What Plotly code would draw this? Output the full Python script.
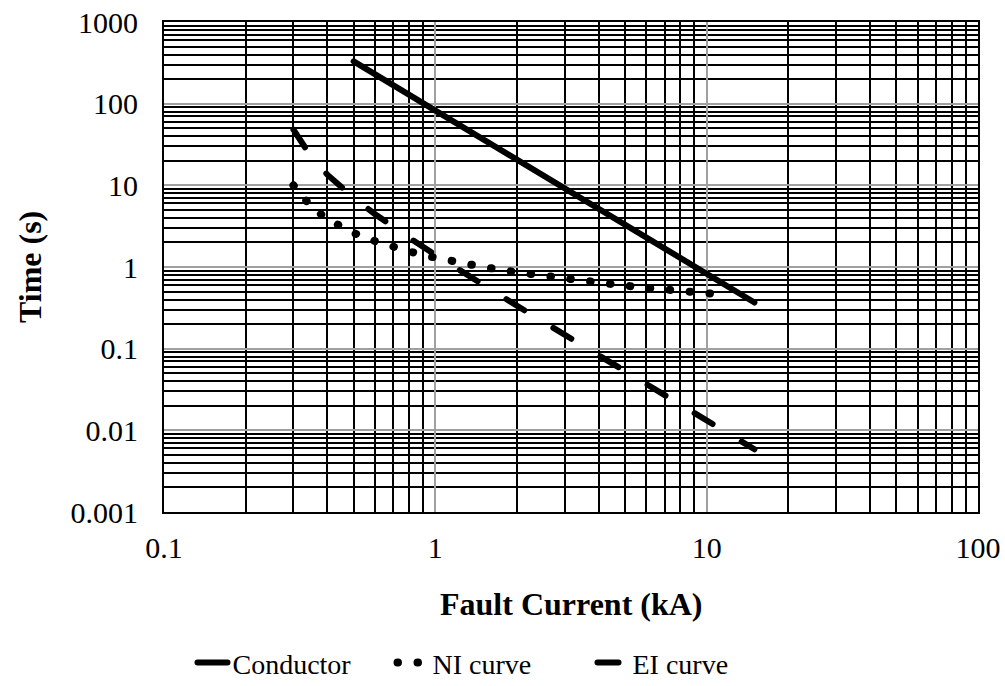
import plotly.graph_objects as go

# Data
cond_I = [0.5, 0.7, 1, 1.5, 2, 3, 5, 7, 10, 15]
cond_t = [330, 168, 82.5, 36.7, 20.6, 9.17, 3.30, 1.68, 0.825, 0.367]

ni_I = [0.3, 0.35, 0.4, 0.5, 0.6, 0.7, 0.8, 1, 1.2, 1.5, 2, 2.5, 3, 4, 5, 6, 8, 10, 12]
ni_t = [10.0, 5.41, 3.86, 2.61, 2.07, 1.75, 1.55, 1.30, 1.145, 1.00, 0.86, 0.775,
        0.716, 0.640, 0.591, 0.556, 0.509, 0.477, 0.453]

ei_I = [0.3, 0.35, 0.4, 0.5, 0.6, 0.7, 0.8, 1, 1.2, 1.5, 2, 2.5, 3, 4, 5, 6, 8, 10, 12, 15]
ei_t = [48.0, 22.0, 13.5, 7.03, 4.43, 3.08, 2.28, 1.41, 0.957, 0.603, 0.335, 0.213,
        0.148, 0.0827, 0.0529, 0.0367, 0.0206, 0.0132, 0.00916, 0.00586]

x_ticks = [0.1, 1, 10, 100]
x_labels = ["0.1", "1", "10", "100"]
y_ticks = [0.001, 0.01, 0.1, 1, 10, 100, 1000]
y_labels = ["0.001", "0.01", "0.1", "1", "10", "100", "1000"]

FONT = "Liberation Serif, Times New Roman, serif"

fig = go.Figure()
fig.add_trace(go.Scatter(x=cond_I, y=cond_t, mode="lines", name="Conductor",
                         line=dict(color="black", width=6)))
fig.add_trace(go.Scatter(x=ni_I, y=ni_t, mode="lines", name="NI curve",
                         line=dict(color="black", width=8, dash="0.5px,19.5px")))
fig.add_trace(go.Scatter(x=ei_I, y=ei_t, mode="lines", name="EI curve",
                         line=dict(color="black", width=6, dash="21px,34px")))

axis_common = dict(
    type="log", automargin=False,
    showline=True, linecolor="black", linewidth=2, mirror=True,
    showgrid=True, gridcolor="#a0a0a0", gridwidth=2,
    ticks="", tickfont=dict(family=FONT, size=30, color="black"),
    zeroline=False,
    minor=dict(dtick="D1", showgrid=True, gridcolor="black", gridwidth=2, ticks=""),
)

fig.update_xaxes(range=[-1, 2], tickmode="array", tickvals=x_ticks, ticktext=x_labels,
                 ticklabelstandoff=8, **axis_common)
fig.update_yaxes(range=[-3, 3], tickmode="array", tickvals=y_ticks, ticktext=y_labels,
                 ticklabelstandoff=18, **axis_common)

fig.add_annotation(text="<b>Fault Current (kA)</b>", xref="paper", yref="paper",
                   x=0.5, y=-0.1878, xanchor="center", yanchor="middle", showarrow=False,
                   font=dict(family=FONT, size=32, color="black"))
fig.add_annotation(text="<b>Time (s)</b>", xref="paper", yref="paper",
                   x=-0.1646, y=0.5, xanchor="center", yanchor="middle", showarrow=False,
                   textangle=-90, font=dict(family=FONT, size=32, color="black"))

fig.update_layout(
    width=1005, height=686,
    margin=dict(l=164, r=27, t=22, b=174, autoexpand=False),
    paper_bgcolor="white", plot_bgcolor="white",
    showlegend=True,
    hovermode=False,
    legend=dict(orientation="h", x=0.035, y=-0.308, xanchor="left", yanchor="middle",
                font=dict(family=FONT, size=28, color="black"),
                itemwidth=30, entrywidth=155, entrywidthmode="pixels",
                tracegroupgap=0),
)

post = """
document.body.style.margin='0';
document.body.style.padding='0';
function roundCaps(){
  document.querySelectorAll('.js-line').forEach(function(p){
    p.style.strokeLinecap='round';
  });
}
roundCaps();
setTimeout(roundCaps, 100);
setTimeout(roundCaps, 500);
"""
fig.write_html("out.html", post_script=post, config={"displayModeBar": False})
